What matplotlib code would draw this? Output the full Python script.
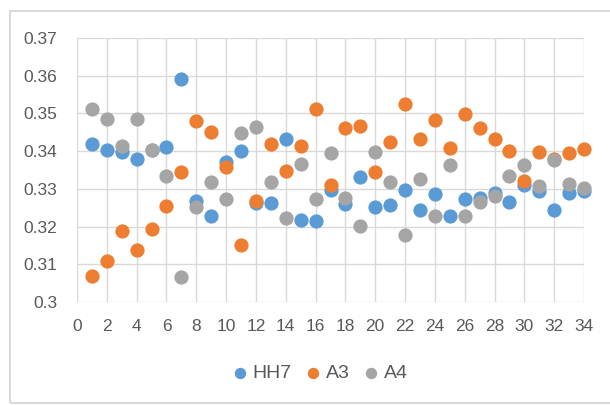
import numpy as np
import matplotlib.pyplot as plt
from matplotlib.patches import Rectangle

x = np.arange(1, 35)

hh7 = [0.3419, 0.3404, 0.3397, 0.3379, 0.3403, 0.3410, 0.3591, 0.3267, 0.3229, 0.3370,
       0.3401, 0.3262, 0.3262, 0.3433, 0.3218, 0.3214, 0.3298, 0.3260, 0.3331, 0.3251,
       0.3258, 0.3296, 0.3243, 0.3287, 0.3227, 0.3273, 0.3276, 0.3289, 0.3264, 0.3311,
       0.3293, 0.3245, 0.3290, 0.3293]
a3 = [0.3068, 0.3109, 0.3189, 0.3138, 0.3193, 0.3255, 0.3344, 0.3481, 0.3451, 0.3359,
      0.3150, 0.3269, 0.3419, 0.3348, 0.3414, 0.3512, 0.3309, 0.3461, 0.3467, 0.3346,
      0.3423, 0.3525, 0.3433, 0.3483, 0.3408, 0.3498, 0.3461, 0.3433, 0.3401, 0.3320,
      0.3397, 0.3378, 0.3395, 0.3406]
a4 = [0.3512, 0.3486, 0.3414, 0.3486, 0.3404, 0.3335, 0.3065, 0.3252, 0.3318, 0.3274,
      0.3448, 0.3464, 0.3318, 0.3223, 0.3366, 0.3274, 0.3395, 0.3277, 0.3202, 0.3397,
      0.3318, 0.3178, 0.3326, 0.3229, 0.3362, 0.3227, 0.3265, 0.3280, 0.3335, 0.3362,
      0.3308, 0.3377, 0.3313, 0.3302]

labels = ['HH7', 'A3', 'A4']
colors = ['#5B9BD5', '#ED7D31', '#A5A5A5']
yticklabels = ['0.3', '0.31', '0.32', '0.33', '0.34', '0.35', '0.36', '0.37']

plt.rcParams['font.family'] = ['Liberation Sans', 'DejaVu Sans']

fig = plt.figure(figsize=(6.1, 4.05), dpi=100)
ax = fig.add_axes([77/610, 1-302/405, (584-77)/610, (302-38)/405])

for i, ys in enumerate([hh7, a3, a4]):
    ax.scatter(x, ys, s=105, color=colors[i], label=labels[i], zorder=3+i,
               linewidths=0, clip_on=False)

ax.set_xlim(0, 34)
ax.set_ylim(0.3, 0.37)
ax.set_xticks(np.arange(0, 35, 2))
ax.set_yticks(np.linspace(0.30, 0.37, 8))
ax.set_yticklabels(yticklabels)
ax.grid(True, color='#d9d9d9', linewidth=1)
ax.set_axisbelow(True)
for s in ax.spines.values():
    s.set_visible(False)
ax.tick_params(length=0, labelsize=12.5, labelcolor='#595959')
ax.tick_params(axis='y', pad=14)
ax.tick_params(axis='x', pad=12)

fig.legend(loc='center', bbox_to_anchor=(320/610, 1-373/405), ncol=3, frameon=False,
           fontsize=14, labelcolor='#595959', handlelength=0.8, handletextpad=0.25,
           columnspacing=0.7, markerscale=0.8)

fig.patches.append(Rectangle((10/610, 2/405), 0.99, 392/405, transform=fig.transFigure,
                             fill=False, edgecolor='#d9d9d9', linewidth=1.5))

fig.savefig('out.png', dpi=100)
